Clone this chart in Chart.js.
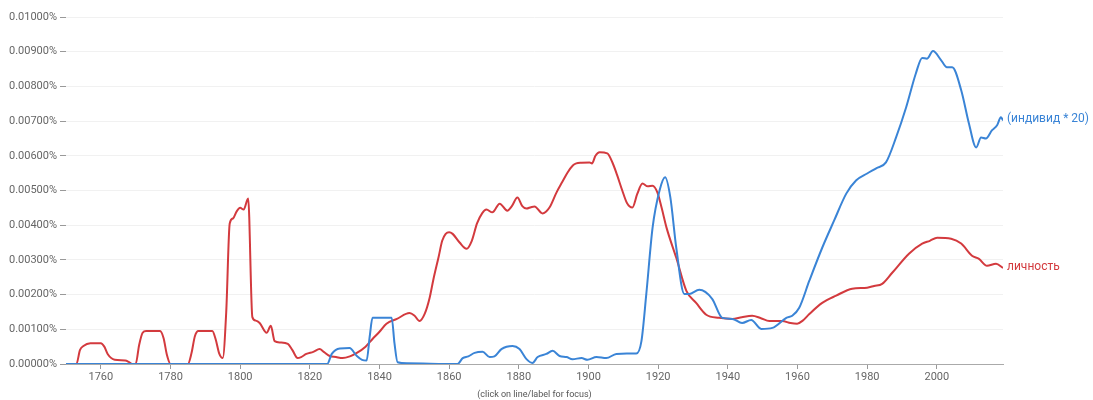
<!DOCTYPE html>
<html>
<head>
<meta charset="utf-8">
<script src="https://cdn.jsdelivr.net/npm/chart.js@4/dist/chart.umd.min.js"></script>
<style>
  html, body { margin: 0; padding: 0; background: #fff; }
  #wrap { width: 1093px; height: 400px; position: relative; }
</style>
</head>
<body>
<div id="wrap"><canvas id="ngramChart" width="1093" height="400"></canvas></div>
<script>
// dati (valori in %)
const seriesNames = ['(индивид * 20)', 'личность'];

const blueYears = [1750, 1825, 1826.3, 1828.6, 1831.4, 1833.5, 1835, 1836.3, 1837.2, 1838, 1843.5, 1844.3, 1845.2, 1848,
  1862.4, 1863.9, 1865.5, 1867.3, 1869.6, 1871.6, 1873, 1875, 1878.2, 1880.2, 1882.2, 1883.9, 1885.4, 1887.9, 1889.7,
  1891.7, 1893.7, 1895.4, 1898, 1899.7, 1902.3, 1905.1, 1908, 1911, 1913.7, 1915.2, 1916.6, 1918.4, 1920.4, 1922,
  1923.5, 1925.2, 1927.5, 1928.9, 1931.8, 1935.5, 1938.4, 1941.3, 1944.1, 1946.7, 1949.6, 1952.8, 1956.8, 1958.5,
  1960.5, 1963.4, 1967.1, 1970.5, 1974, 1976.8, 1980, 1982.6, 1985.4, 1988.3, 1991.2, 1994, 1995.8, 1997.2, 1998.9,
  2001.2, 2002.9, 2004.4, 2007, 2009.2, 2011.3, 2012.7, 2014.1, 2015.8, 2017.3, 2018.4, 2019];
const blueValues = [0, 0, 0.00029, 0.00045, 0.00046, 0.00023, 0.00012, 0.0001, 0.0008, 0.00133, 0.00133, 0.0006, 0.00005, 0.00002,
  0, 0.00017, 0.00022, 0.00032, 0.00035, 0.0002, 0.00022, 0.00043, 0.00052, 0.00043, 0.00014, 0.00003, 0.0002, 0.00029, 0.00038,
  0.00023, 0.0002, 0.00014, 0.00017, 0.00012, 0.0002, 0.00017, 0.00029, 0.0003, 0.0003, 0.00066, 0.00202, 0.00393, 0.005, 0.00538,
  0.0048, 0.00335, 0.00202, 0.00202, 0.00214, 0.00188, 0.00133, 0.0013, 0.00118, 0.00127, 0.00101, 0.00104, 0.00133, 0.00139,
  0.00162, 0.0024, 0.00335, 0.00413, 0.00491, 0.00529, 0.00549, 0.00564, 0.00581, 0.00653, 0.0074, 0.00838, 0.00882, 0.0088, 0.00902,
  0.00876, 0.00855, 0.00855, 0.00789, 0.00694, 0.00624, 0.00653, 0.0065, 0.00673, 0.00688, 0.00711, 0.00702];

const redYears = [1750, 1753, 1754, 1755, 1757, 1760, 1761, 1762, 1764, 1767, 1768, 1769, 1770, 1771, 1772, 1773, 1777,
  1778, 1779, 1780, 1785, 1786, 1787, 1788, 1792, 1793, 1794, 1795, 1796, 1797, 1798, 1799, 1800, 1801, 1802.3, 1803.5,
  1804.5, 1805.6, 1807.6, 1808.8, 1809.9, 1811.5, 1813.7, 1815, 1816.5, 1817.5, 1819, 1821, 1822.8, 1824, 1825.7, 1827.5,
  1829.4, 1831.5, 1833.5, 1836, 1838, 1840, 1842, 1845, 1848.6, 1850, 1851.5, 1853, 1854.4, 1855.5, 1857, 1858, 1859, 1860,
  1861, 1863, 1865, 1866.5, 1868, 1869.5, 1870.7, 1872.4, 1874.5, 1876.7, 1878, 1879.6, 1881, 1882.2, 1883.5, 1884.5, 1886.8,
  1888.8, 1890.8, 1892.5, 1894, 1895.5, 1896.5, 1898, 1900.3, 1901, 1902, 1903.2, 1905.4, 1906.9, 1908.2, 1909.7, 1911, 1912.6,
  1914, 1915.5, 1917, 1918.4, 1919.8, 1921, 1922.4, 1925.2, 1928.1, 1930.9, 1933.8, 1937.5, 1941.3, 1944, 1947, 1949.5, 1951.9,
  1955.6, 1958, 1959.9, 1961.5, 1963.4, 1967.1, 1971.1, 1975.7, 1980, 1982, 1984.3, 1987.2, 1992, 1995.8, 1998, 2000.1, 2004.1,
  2007, 2010.1, 2012.1, 2014.4, 2017, 2019];
const redValues = [0, 0, 0.0004, 0.00052, 0.0006, 0.0006, 0.0005, 0.00028, 0.00012, 0.0001, 0.00006, 0, 0, 0.00055, 0.0009, 0.00095, 0.00095,
  0.00075, 0.00025, 0, 0, 0.0003, 0.0008, 0.00095, 0.00095, 0.0007, 0.0003, 0.00017, 0.0015, 0.00405, 0.0042, 0.0044, 0.0045, 0.00445, 0.00477, 0.00135,
  0.00125, 0.00118, 0.0009, 0.0011, 0.00066, 0.00062, 0.00058, 0.0004, 0.00017, 0.0002, 0.00029, 0.00035, 0.00043, 0.00035, 0.00023, 0.0002,
  0.00017, 0.00022, 0.00032, 0.0005, 0.00072, 0.00093, 0.00116, 0.0013, 0.00147, 0.0014, 0.00124, 0.00145, 0.00191, 0.00245, 0.0031, 0.00355, 0.00375, 0.0038,
  0.00375, 0.0035, 0.00332, 0.00355, 0.00405, 0.00435, 0.00445, 0.00437, 0.00462, 0.00442, 0.00455, 0.0048, 0.00455, 0.00448, 0.00452, 0.00454, 0.00434,
  0.00451, 0.00494, 0.00525, 0.00552, 0.00572, 0.00578, 0.0058, 0.00581, 0.00578, 0.006, 0.0061, 0.00607, 0.0058, 0.00545, 0.005, 0.00465, 0.00451,
  0.0049, 0.0052, 0.00512, 0.00514, 0.00494, 0.0045, 0.00393, 0.00306, 0.00211, 0.00176, 0.00142, 0.00133, 0.0013, 0.00135, 0.00139, 0.00132, 0.00124,
  0.00124, 0.00118, 0.00116, 0.00125, 0.00144, 0.00176, 0.00197, 0.00217, 0.0022, 0.00225, 0.00231, 0.00263, 0.00318, 0.00347, 0.00355, 0.00364, 0.00361,
  0.00347, 0.00312, 0.00303, 0.00283, 0.00289, 0.00277];

const xTickYears = [1760, 1780, 1800, 1820, 1840, 1860, 1880, 1900, 1920, 1940, 1960, 1980, 2000];
const seriesColors = ['#3a84d6', '#d33a3e'];

function toPoints(years, values) {
  return years.map((y, i) => ({ x: y, y: values[i] }));
}

// etichette alla fine delle linee
const endLabels = {
  id: 'endLabels',
  afterDatasetsDraw(chart) {
    const ctx = chart.ctx;
    ctx.save();
    ctx.font = '12px Roboto, "Open Sans", sans-serif';
    ctx.textBaseline = 'middle';
    ctx.textAlign = 'left';
    chart.data.datasets.forEach((ds, i) => {
      const meta = chart.getDatasetMeta(i);
      const last = meta.data[meta.data.length - 1];
      ctx.fillStyle = ds.borderColor;
      ctx.fillText(ds.label, last.x + 4, last.y - 1);
    });
    ctx.restore();
  }
};

document.addEventListener('DOMContentLoaded', () => {
  const ctx = document.getElementById('ngramChart').getContext('2d');
  const chart = new Chart(ctx, {
    type: 'line',
    data: {
      datasets: [
        { label: seriesNames[0], data: toPoints(blueYears, blueValues), borderColor: seriesColors[0], borderWidth: 2,
          pointRadius: 0, cubicInterpolationMode: 'monotone', fill: false },
        { label: seriesNames[1], data: toPoints(redYears, redValues), borderColor: seriesColors[1], borderWidth: 2,
          pointRadius: 0, cubicInterpolationMode: 'monotone', fill: false }
      ]
    },
    options: {
      responsive: false,
      animation: false,
      layout: { padding: { top: 17, right: 90, left: 0, bottom: 0 } },
      plugins: { legend: { display: false }, tooltip: { enabled: false } },
      scales: {
        x: {
          type: 'linear',
          min: 1750,
          max: 2019,
          afterBuildTicks: scale => { scale.ticks = xTickYears.map(v => ({ value: v })); },
          afterFit: scale => { scale.height = 36; },
          ticks: { color: '#666', font: { family: 'Roboto', size: 11 }, padding: 2, maxRotation: 0,
                   callback: v => String(v) },
          grid: { drawOnChartArea: false, tickLength: 5, color: '#999' },
          border: { color: '#aaa' },
          title: { display: true, text: '(click on line/label for focus)', color: '#555',
                   font: { family: 'Roboto', size: 9 }, padding: { top: 7, bottom: 0 } }
        },
        y: {
          min: 0,
          max: 0.01,
          afterFit: scale => { scale.width = 66; },
          ticks: { stepSize: 0.001, color: '#666', font: { family: 'Roboto', size: 11 }, padding: 3,
                   callback: v => v.toFixed(5) + '%' },
          grid: { color: '#f1f1f1', tickColor: '#999', tickLength: 6 },
          border: { display: false }
        }
      }
    },
    plugins: [endLabels]
  });
});
</script>
</body>
</html>
